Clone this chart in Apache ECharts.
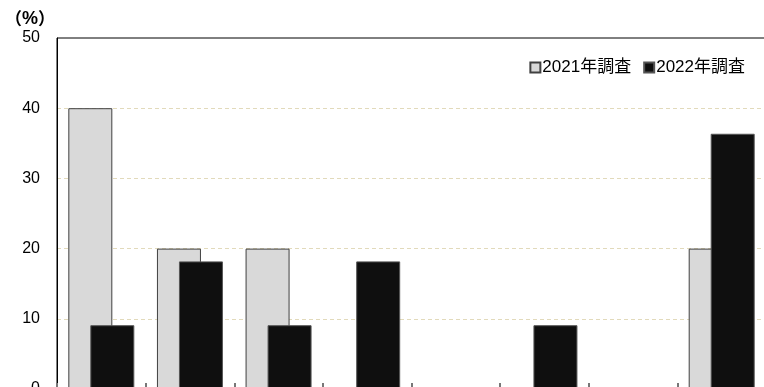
<!DOCTYPE html>
<html>
<head>
<meta charset="utf-8">
<script src="https://cdn.jsdelivr.net/npm/echarts@6/dist/echarts.min.js"></script>
<style>
  html, body { margin: 0; padding: 0; background: #fff; }
  #chart { width: 764px; height: 387px; }
</style>
</head>
<body>
<div id="chart"></div>
<script>
// Survey response shares (%), by item
const categories = ['項目1', '項目2', '項目3', '項目4', '項目5', '項目6', '項目7', '項目8'];
const survey2021 = [40, 20, 20, 0, 0, 0, 0, 20];
const survey2022 = [9.09, 18.18, 9.09, 18.18, 0, 9.09, 0, 36.36];
const yTicks = { min: 0, max: 50, interval: 10 };

const FONT = '"Liberation Sans", "Noto Sans CJK JP", sans-serif';

const chart = echarts.init(document.getElementById('chart'));
chart.setOption({
  animation: false,
  backgroundColor: '#ffffff',
  title: {
    text: '{p|（}{v|%}{p|）}',
    left: 0,
    top: 5,
    textStyle: {
      rich: {
        p: { fontFamily: '"Noto Sans CJK JP", sans-serif', fontSize: 17, color: '#000' },
        v: { fontFamily: FONT, fontSize: 18, fontWeight: 'bold', color: '#000' }
      }
    }
  },
  legend: {
    right: 14,
    top: 54,
    itemWidth: 10,
    itemHeight: 10,
    itemGap: 12,
    textStyle: { fontFamily: FONT, fontSize: 17, color: '#000', padding: [0, 0, 0, -3] },
    data: [
      { name: '2021年調査', icon: 'rect' },
      { name: '2022年調査', icon: 'rect' }
    ]
  },
  grid: {
    left: 57,
    top: 38,
    width: 709,
    height: 351,
    outerBoundsMode: 'none',
    containLabel: false,
    show: true,
    borderColor: '#000',
    borderWidth: 1,
    backgroundColor: 'transparent'
  },
  xAxis: {
    type: 'category',
    data: categories,
    axisLine: { lineStyle: { color: '#000' } },
    axisTick: { show: true, inside: true, length: 6, interval: 0, lineStyle: { color: '#777', width: 2 } },
    axisLabel: { show: false }
  },
  yAxis: {
    type: 'value',
    min: yTicks.min,
    max: yTicks.max,
    interval: yTicks.interval,
    axisLine: { show: true, lineStyle: { color: '#000' } },
    axisTick: { show: false },
    axisLabel: { fontFamily: FONT, fontSize: 16, color: '#000', margin: 17 },
    splitLine: { showMaxLine: false, lineStyle: { color: '#e2dabb', type: [4, 3], width: 1 } }
  },
  series: [
    {
      name: '2021年調査',
      type: 'bar',
      data: survey2021,
      barWidth: 44,
      barGap: '-50%',
      itemStyle: { color: '#d9d9d9', borderColor: '#404040', borderWidth: 1 }
    },
    {
      name: '2022年調査',
      type: 'bar',
      data: survey2022,
      barWidth: 44,
      barGap: '-50%',
      itemStyle: { color: '#0f0f0f', borderColor: '#555555', borderWidth: 1 }
    }
  ]
});
</script>
</body>
</html>
